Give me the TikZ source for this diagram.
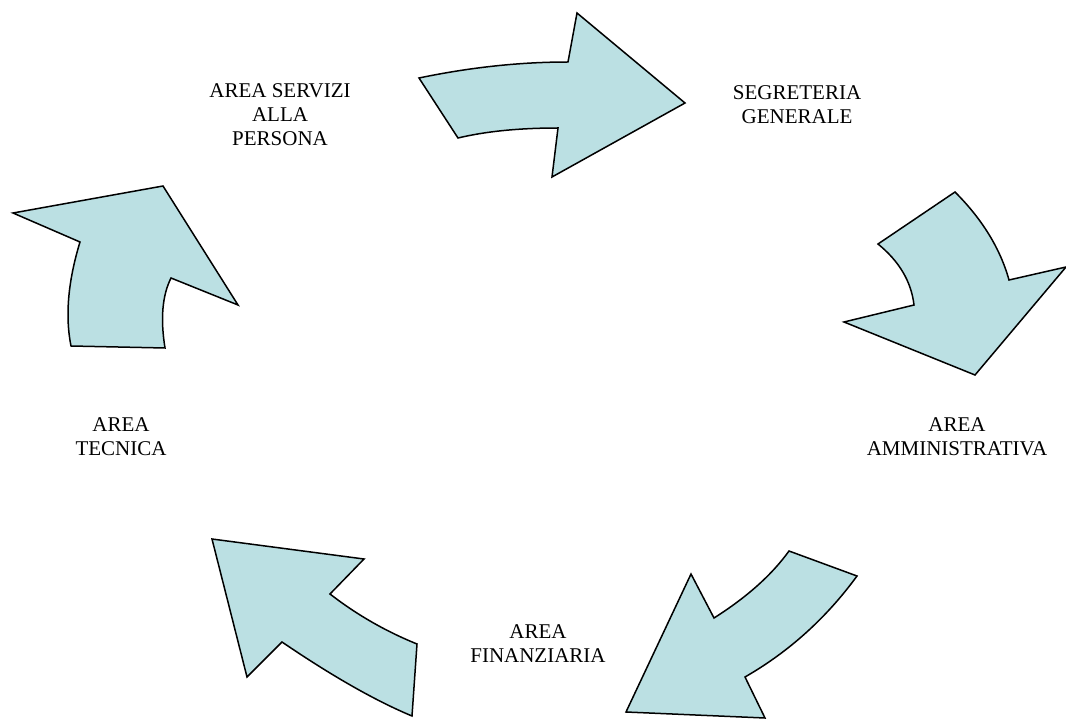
\documentclass[tikz,border=0pt]{standalone}
\usepackage{fontspec}
\setmainfont{Liberation Serif}
\definecolor{arrowfill}{HTML}{BBE0E3}
\tikzset{
  arrowshape/.style={fill=arrowfill, draw=black, line width=1.5pt, line join=miter},
  areatext/.style={align=center, inner sep=0pt, font=\fontsize{21}{24}\selectfont}
}
\begin{document}
\begin{tikzpicture}[x=1pt,y=-1pt]
\useasboundingbox[fill=white] (0,0) rectangle (1066,719);
% arrow 1 (top)
\draw[arrowshape] (419,78) .. controls (470.3,67.3) and (520,62) .. (568,62) -- (577,13) -- (685,103)
  -- (552,177) -- (558,128) .. controls (519.3,128) and (486,131.3) .. (458,138) -- cycle;
% arrow 2 (right)
\draw[arrowshape] (878,244) -- (955,192) .. controls (982.3,219.3) and (1000.3,248.7) .. (1009,280) -- (1066,267)
  -- (975,375) -- (844,322) -- (914,305) .. controls (911.3,281.7) and (899.3,261.3) .. (878,244) -- cycle;
% arrow 3 (bottom right)
\draw[arrowshape] (789,551) -- (857,576) .. controls (826.3,618) and (789,651.7) .. (745,677) -- (765,718)
  -- (626,712) -- (691,574) -- (714,618) .. controls (746.7,597.3) and (771.7,575) .. (789,551) -- cycle;
% arrow 4 (bottom left)
\draw[arrowshape] (212,539) -- (364,559) -- (330,594) .. controls (356.7,614.7) and (385.7,631.3) .. (417,644)
  -- (412,716) .. controls (375.3,700.7) and (332,676) .. (282,642) -- (247,677) -- cycle;
% arrow 5 (left)
\draw[arrowshape] (13,213) -- (163,186) -- (238,305) -- (171,278) .. controls (162.3,295.3) and (160.3,318.7) .. (165,348)
  -- (71,346) .. controls (65,316) and (68,281.3) .. (80,242) -- cycle;
% labels
\node[areatext] (servizi) at (280,115) {AREA SERVIZI\\ALLA\\PERSONA};
\node[areatext] (segreteria) at (797,104.5) {SEGRETERIA\\GENERALE};
\node[areatext] (amministrativa) at (957,436.5) {AREA\\AMMINISTRATIVA};
\node[areatext] (finanziaria) at (538,643.5) {AREA\\FINANZIARIA};
\node[areatext] (tecnica) at (121,436.5) {AREA\\TECNICA};
\end{tikzpicture}
\end{document}
